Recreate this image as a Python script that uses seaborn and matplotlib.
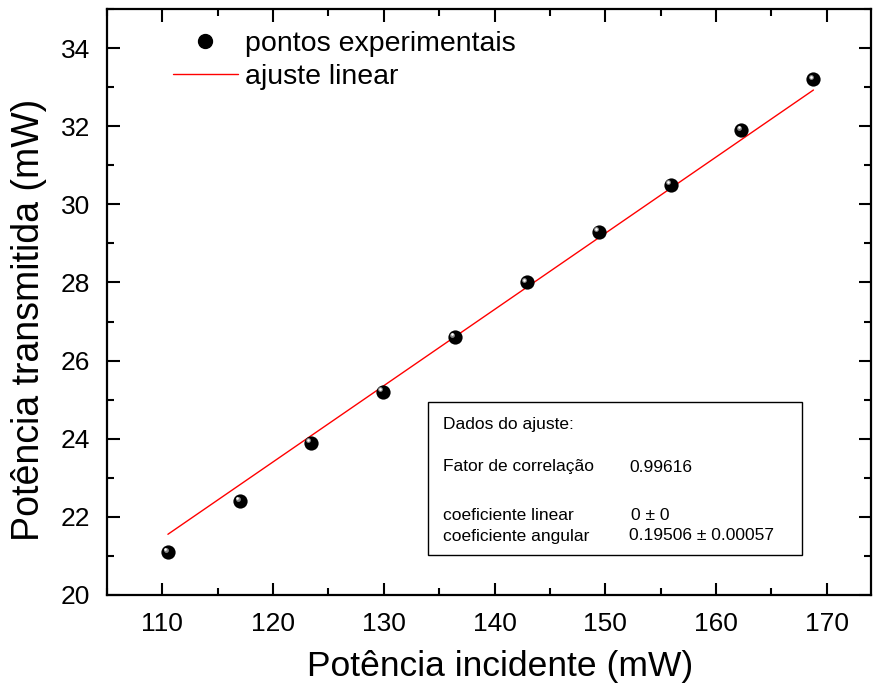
import numpy as np
import pandas as pd
import matplotlib
matplotlib.use("Agg")
import matplotlib.pyplot as plt
import matplotlib.transforms as mtransforms
from matplotlib.ticker import MultipleLocator
from matplotlib.lines import Line2D
import seaborn as sns

# Data
potencia_incidente = [110.5, 117.0, 123.4, 129.9, 136.4, 142.9, 149.4, 155.9, 162.3, 168.8]
potencia_transmitida = [21.1, 22.4, 23.9, 25.2, 26.6, 28.0, 29.3, 30.5, 31.9, 33.2]
coef_linear = 0.0
coef_angular = 0.19506
fit_x = [min(potencia_incidente), max(potencia_incidente)]
fit_y = [coef_linear + coef_angular * v for v in fit_x]

df = pd.DataFrame({"x": potencia_incidente, "y": potencia_transmitida})
df_fit = pd.DataFrame({"x": fit_x, "y": fit_y})

sns.set_theme(style="ticks")
plt.rcParams['font.family'] = ['Liberation Sans', 'DejaVu Sans']
plt.rcParams['text.color'] = 'black'
plt.rcParams['axes.labelcolor'] = 'black'
plt.rcParams['xtick.color'] = 'black'
plt.rcParams['ytick.color'] = 'black'

fig = plt.figure(figsize=(8.73, 6.95), dpi=100)
ax = fig.add_axes([107/873, 1-595/695, (871-107)/873, (595-9)/695])

sns.lineplot(data=df_fit, x="x", y="y", ax=ax, color="red", linewidth=1.0, zorder=2)
sns.scatterplot(data=df, x="x", y="y", ax=ax, color="black", s=105, edgecolor="black",
                linewidth=0, zorder=3)
# highlight to mimic sphere
hl = mtransforms.offset_copy(ax.transData, fig=fig, x=-1.7, y=1.7, units='points')
ax.scatter(df["x"], df["y"], s=12, color="#8a8a8a", transform=hl, zorder=4, linewidths=0)
hl2 = mtransforms.offset_copy(ax.transData, fig=fig, x=-2.0, y=2.0, units='points')
ax.scatter(df["x"], df["y"], s=3.5, color="white", transform=hl2, zorder=5, linewidths=0)

ax.set_xlim(105, 174)
ax.set_ylim(20, 35)
ax.xaxis.set_major_locator(MultipleLocator(10))
ax.xaxis.set_minor_locator(MultipleLocator(5))
ax.yaxis.set_major_locator(MultipleLocator(2))
ax.yaxis.set_minor_locator(MultipleLocator(1))
ax.tick_params(which="both", direction="in", top=True, right=True, width=1.5, colors="black")
ax.tick_params(which="major", length=9, labelsize=19, pad=12)
ax.tick_params(which="minor", length=5)
for s in ax.spines.values():
    s.set_linewidth(1.6)
    s.set_color("black")

ax.set_xlabel("Potência incidente (mW)", fontsize=25.5)
ax.set_ylabel("Potência transmitida (mW)", fontsize=27)
ax.xaxis.set_label_coords((500-107)/764, -(650-595)/586)
ax.yaxis.set_label_coords(-(107-47)/764, (595-320)/586)

handles = [
    Line2D([], [], marker="o", color="black", linestyle="none", markersize=10),
    Line2D([], [], color="red", linewidth=1.0),
]
ax.legend(handles, ["pontos experimentais", "ajuste linear"], loc="upper left",
          bbox_to_anchor=(0.086, 0.962), frameon=False, fontsize=20.5,
          handlelength=2.3, handletextpad=0.25, labelspacing=0.25,
          borderpad=0, borderaxespad=0)

# fit info box
box = plt.Rectangle((0.42, 0.068), 0.4895, 0.261, transform=ax.transAxes,
                    facecolor="white", edgecolor="black", linewidth=1.0, zorder=6)
ax.add_patch(box)
fs = 12.5
def t(xp, yp, s):
    ax.text((xp-107)/764, (595-yp)/586, s, transform=ax.transAxes, fontsize=fs,
            va="center", ha="left", zorder=7)
t(443, 424, "Dados do ajuste:")
t(443, 467, "Fator de correlação")
t(629, 467, "0.99616")
t(443, 515, "coeficiente linear")
t(631, 515, "0 ± 0")
t(443, 536, "coeficiente angular")
t(629, 536, "0.19506 ± 0.00057")

fig.savefig("out.png", dpi=100)
